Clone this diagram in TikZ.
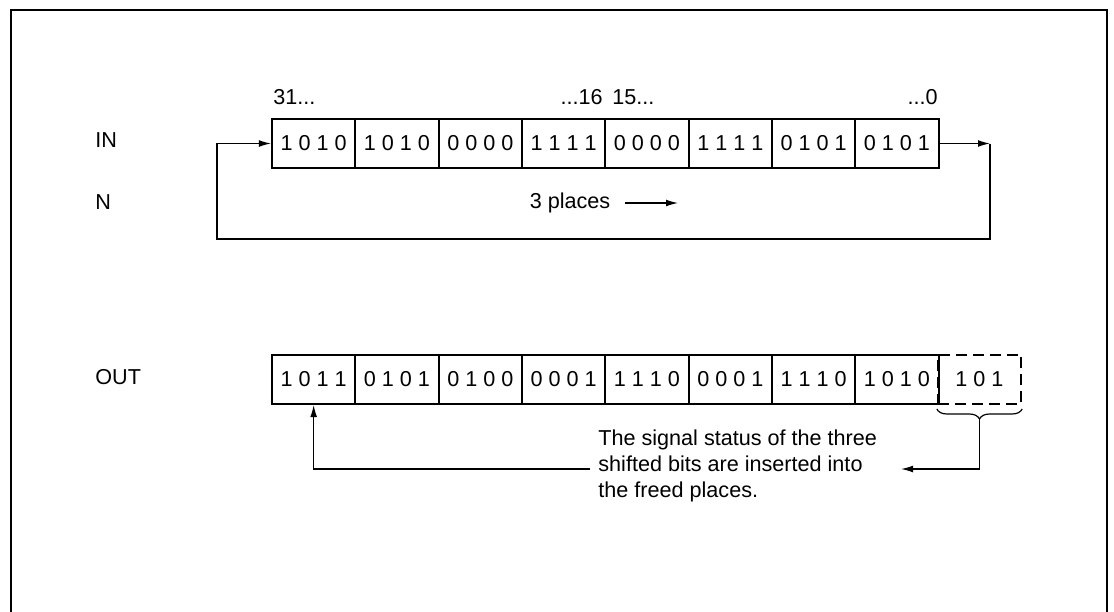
\documentclass[tikz,border=0pt]{standalone}
\usepackage{fontspec}
\setmainfont{Liberation Sans}
\usetikzlibrary{arrows.meta,decorations.pathreplacing}
\begin{document}
\begin{tikzpicture}[x=0.5pt,y=-0.5pt,
  font=\fontsize{10.8}{13}\selectfont,
  cell/.style={draw,line width=1pt,minimum width=41.67pt,minimum height=24.5pt,inner sep=0pt},
  lbl/.style={inner sep=0pt},
  conn/.style={line width=0.6pt},
  arw/.style={conn,-{Latex[length=6pt,width=3.4pt]}}]
\useasboundingbox (0,0) rectangle (1114,611);
% frame
\draw[line width=1pt] (11,625) -- (11,10) -- (1107,10) -- (1107,625);
% row labels
\node[lbl,anchor=west] (lin) at (95,140) {IN};
\node[lbl,anchor=west] (ln) at (95,202) {N};
\node[lbl,anchor=west] (lout) at (95,377) {OUT};
% bit index labels
\node[lbl,anchor=west] (l31) at (273,97) {31...};
\node[lbl,anchor=east] (l16) at (603,97) {...16};
\node[lbl,anchor=west] (l15) at (612,97) {15...};
\node[lbl,anchor=east] (l0) at (938,97) {...0};
% IN cells
\foreach \t [count=\k] in {1 0 1 0,1 0 1 0,0 0 0 0,1 1 1 1,0 0 0 0,1 1 1 1,0 1 0 1,0 1 0 1}
  \node[cell] (i\k) at ({272+83.33*(\k-0.5)},143.5) {\t};
% OUT cells
\foreach \t [count=\k] in {1 0 1 1,0 1 0 1,0 1 0 0,0 0 0 1,1 1 1 0,0 0 0 1,1 1 1 0,1 0 1 0}
  \node[cell] (o\k) at ({272+83.33*(\k-0.5)},379.5) {\t};
\node[cell,dashed,dash pattern=on 5.5pt off 3pt] (o9) at (979.5,379.5) {1 0 1};
% rotation loop
\coordinate (rc) at (990,143.5);
\coordinate (lc) at (217,239);
\draw[arw] (i8.east) -- (rc);
\draw[arw] (rc) |- (lc) |- (i1.west);
% 3 places
\node[lbl] (pl) at (570,203) {3 places};
\coordinate (pa) at (625,203);
\coordinate (pb) at (678,203);
\draw[arw] (pa) -- (pb);
% brace and explanation
\draw[conn,decorate,decoration={brace,mirror,amplitude=5pt}]
  ([yshift=-2pt]o9.south west) -- ([yshift=-2pt]o9.south east);
\coordinate (bt) at ([yshift=-7pt]o9.south);
\coordinate (ae) at (901,469);
\draw[arw] (bt) |- (ae);
\node[lbl,align=left,anchor=west] (txt) at (598,466)
  {The signal status of the three\\shifted bits are inserted into\\the freed places.};
\coordinate (as) at (590,469);
\draw[arw] (as) -| (o1.south);
\end{tikzpicture}
\end{document}
